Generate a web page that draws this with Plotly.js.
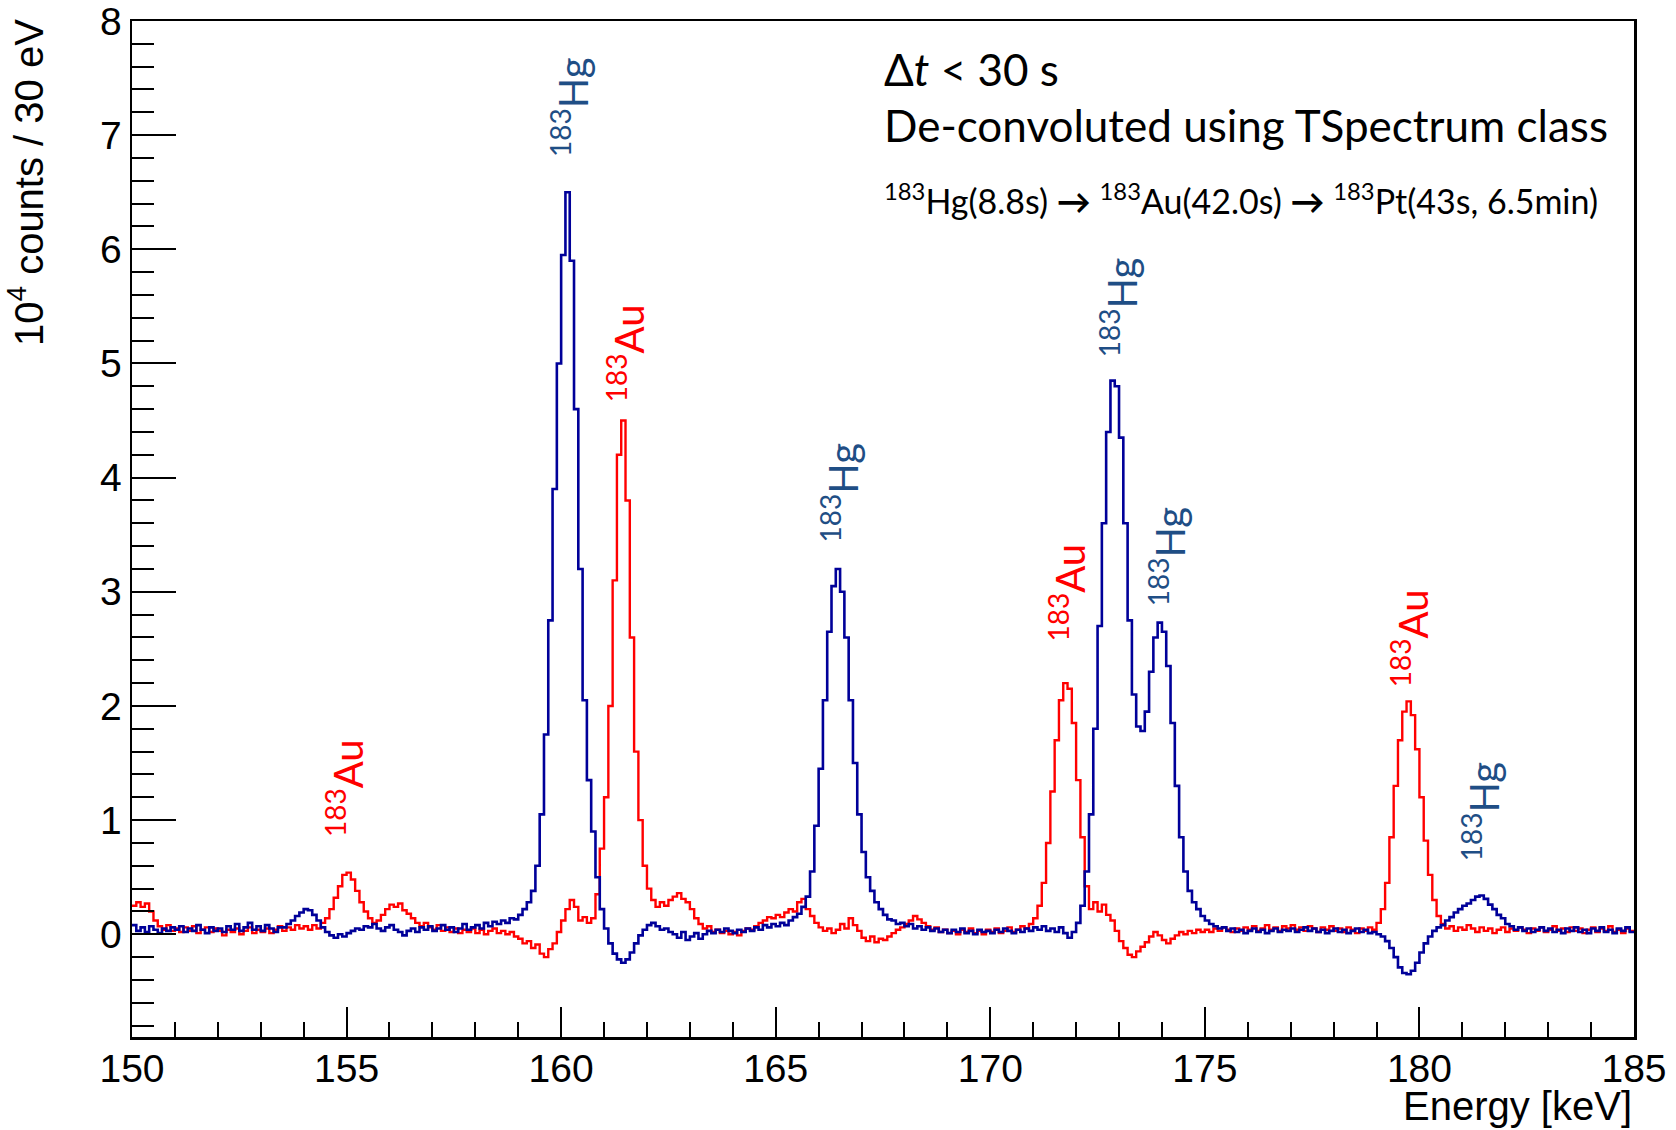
<!DOCTYPE html>
<html>
<head>
<meta charset="utf-8">
<script src="https://cdn.plot.ly/plotly-3.0.1.min.js"></script>
<style>html,body{margin:0;padding:0;background:#fff;}#chart{width:1676px;height:1130px;}</style>
</head>
<body>
<div id="chart"></div>
<script>
// Histogram bins (left edges), 0.1 keV wide, from 150.0 keV
const binStart = 150.0;
const binWidth = 0.1;

// 183Hg spectrum (blue), units of 10^4 counts
const hgCounts = [
 0.08,0.03,0.06,0.02,0.07,0.04,0.01,0.05,0.03,0.06,
 0.04,0.07,0.02,0.05,0.03,0.08,0.04,0.01,0.06,0.03,
 0.05,0.02,0.07,0.04,0.09,0.03,0.06,0.10,0.04,0.07,
 0.03,0.08,0.05,0.02,0.06,0.06,0.09,0.12,0.16,0.19,
 0.22,0.21,0.17,0.12,0.06,0.02,-0.01,-0.03,0.00,-0.02,
 0.01,0.03,0.05,0.04,0.07,0.06,0.09,0.05,0.03,0.06,
 0.08,0.04,0.02,-0.01,0.03,0.05,0.02,0.06,0.04,0.07,
 0.03,0.05,0.08,0.04,0.06,0.02,0.05,0.09,0.04,0.06,
 0.08,0.05,0.10,0.07,0.11,0.09,0.12,0.10,0.14,0.13,
 0.17,0.22,0.28,0.38,0.60,1.05,1.75,2.75,3.90,5.00,
 5.95,6.50,5.90,4.60,3.20,2.05,1.35,0.90,0.50,0.22,
 0.05,-0.08,-0.17,-0.22,-0.25,-0.22,-0.16,-0.08,-0.01,0.04,
 0.08,0.10,0.07,0.04,0.05,0.02,0.00,-0.03,0.02,-0.05,
 -0.02,0.01,-0.04,0.00,0.03,0.01,0.04,0.02,0.05,0.03,
 0.01,0.04,0.02,0.05,0.03,0.06,0.04,0.08,0.06,0.09,
 0.07,0.10,0.08,0.12,0.15,0.18,0.24,0.33,0.55,0.95,
 1.45,2.05,2.65,3.05,3.20,3.00,2.60,2.05,1.50,1.05,
 0.72,0.50,0.38,0.28,0.22,0.17,0.13,0.12,0.09,0.10,
 0.07,0.09,0.05,0.07,0.04,0.06,0.03,0.05,0.02,0.04,
 0.01,0.04,0.02,0.05,0.01,0.03,0.00,0.04,0.02,0.03,
 0.01,0.04,0.02,0.05,0.03,0.01,0.04,0.02,0.05,0.03,
 0.06,0.04,0.07,0.03,0.05,0.02,0.06,0.01,-0.03,0.02,
 0.10,0.25,0.55,1.05,1.80,2.70,3.60,4.40,4.85,4.80,
 4.35,3.60,2.75,2.10,1.82,1.78,1.95,2.30,2.60,2.73,
 2.65,2.35,1.85,1.30,0.85,0.55,0.38,0.28,0.22,0.16,
 0.12,0.09,0.07,0.05,0.06,0.03,0.05,0.02,0.04,0.01,
 0.03,0.05,0.02,0.04,0.01,0.03,0.05,0.02,0.04,0.03,
 0.05,0.02,0.04,0.06,0.03,0.05,0.02,0.04,0.01,0.03,
 0.05,0.02,0.04,0.01,0.03,0.05,0.02,0.04,0.01,0.02,
 0.00,-0.02,-0.06,-0.12,-0.20,-0.29,-0.34,-0.35,-0.32,-0.25,
 -0.16,-0.08,-0.02,0.03,0.06,0.08,0.12,0.15,0.19,0.22,
 0.25,0.27,0.30,0.33,0.34,0.31,0.26,0.22,0.17,0.14,
 0.09,0.07,0.04,0.06,0.03,0.05,0.02,0.04,0.06,0.03,
 0.05,0.02,0.04,0.01,0.05,0.03,0.06,0.02,0.04,0.01,
 0.05,0.03,0.06,0.02,0.04,0.01,0.05,0.03,0.06,0.02
];

// 183Au spectrum (red), units of 10^4 counts
const auCounts = [
 0.25,0.28,0.24,0.27,0.20,0.12,0.07,0.04,0.08,0.03,
 0.05,0.02,0.06,0.03,0.07,0.01,0.04,0.06,0.02,0.05,
 0.03,-0.01,0.04,0.02,0.05,0.00,0.03,0.06,0.01,0.04,
 0.02,0.05,0.01,0.04,0.07,0.03,0.06,0.04,0.08,0.05,
 0.07,0.04,0.08,0.05,0.10,0.14,0.22,0.32,0.42,0.52,
 0.54,0.48,0.38,0.28,0.20,0.14,0.10,0.12,0.17,0.22,
 0.26,0.24,0.27,0.21,0.18,0.14,0.10,0.07,0.10,0.06,
 0.04,0.08,0.03,0.06,0.02,0.05,0.01,0.04,0.02,0.05,
 0.01,0.04,0.00,0.03,0.05,0.01,0.03,0.00,0.02,-0.02,
 -0.04,-0.08,-0.06,-0.12,-0.09,-0.17,-0.20,-0.13,-0.08,0.02,
 0.12,0.22,0.30,0.24,0.12,0.15,0.10,0.14,0.35,0.75,
 1.20,2.00,3.10,4.20,4.50,3.80,2.60,1.60,1.00,0.60,
 0.40,0.30,0.24,0.28,0.25,0.30,0.33,0.36,0.31,0.28,
 0.22,0.14,0.09,0.05,0.07,0.02,0.04,0.01,0.03,0.00,
 0.02,-0.01,0.03,0.05,0.04,0.07,0.10,0.12,0.15,0.14,
 0.17,0.15,0.19,0.22,0.20,0.28,0.31,0.22,0.16,0.10,
 0.06,0.03,0.05,0.01,0.04,0.09,0.05,0.14,0.08,0.03,
 -0.03,-0.06,-0.02,-0.07,-0.04,-0.05,-0.02,0.01,0.04,0.06,
 0.09,0.12,0.16,0.13,0.10,0.07,0.04,0.06,0.02,0.04,
 0.01,0.03,0.00,0.04,0.02,0.05,0.01,0.03,0.00,0.04,
 0.02,0.05,0.01,0.03,0.06,0.02,0.04,0.07,0.05,0.09,
 0.14,0.25,0.45,0.80,1.25,1.70,2.05,2.20,2.15,1.85,
 1.35,0.85,0.42,0.22,0.28,0.20,0.26,0.17,0.12,0.03,
 -0.06,-0.12,-0.18,-0.20,-0.15,-0.11,-0.07,-0.02,0.02,-0.01,
 -0.05,-0.08,-0.04,-0.01,0.02,0.00,0.03,0.01,0.04,0.02,
 0.04,0.02,0.05,0.03,0.06,0.04,0.02,0.05,0.03,0.06,
 0.04,0.07,0.03,0.05,0.08,0.04,0.06,0.03,0.07,0.05,
 0.08,0.04,0.06,0.03,0.07,0.05,0.02,0.06,0.04,0.07,
 0.03,0.05,0.02,0.06,0.04,0.01,0.05,0.03,0.06,0.04,
 0.10,0.22,0.45,0.85,1.30,1.70,1.95,2.04,1.92,1.62,
 1.20,0.82,0.52,0.30,0.16,0.09,0.05,0.07,0.03,0.06,
 0.04,0.08,0.05,0.02,0.06,0.03,0.05,0.01,0.04,0.06,
 0.02,0.05,0.03,0.06,0.04,0.01,0.05,0.03,0.06,0.02,
 0.04,0.07,0.03,0.05,0.02,0.06,0.03,0.05,0.01,0.04,
 0.06,0.02,0.05,0.03,0.07,0.02,0.04,0.01,0.05,0.03
];

// Peak labels
const labelText = ["<sup>183</sup>Au","<sup>183</sup>Hg","<sup>183</sup>Au","<sup>183</sup>Hg","<sup>183</sup>Au","<sup>183</sup>Hg","<sup>183</sup>Hg","<sup>183</sup>Au","<sup>183</sup>Hg"];
const labelEnergy = [154.96,160.21,161.51,166.52,171.80,172.99,174.14,179.77,181.44];
const labelLevel  = [1.28,7.24,5.09,3.87,2.99,5.49,3.31,2.59,1.07];
const labelIsotope = ["Au","Hg","Au","Hg","Au","Hg","Hg","Au","Hg"];

const arrow = '<span style="font-weight:bold">→</span>';
const infoLines = [
  "Δ<i>t</i> &lt; 30 s",
  "De-convoluted using TSpectrum class",
  "<sup>183</sup>Hg(8.8s) " + arrow + " <sup>183</sup>Au(42.0s) " + arrow + " <sup>183</sup>Pt(43s, 6.5min)"
];

function edges(n){ const e=[]; for(let i=0;i<=n;i++) e.push(+(binStart+i*binWidth).toFixed(3)); return e; }
const xE = edges(hgCounts.length);
const hgY = hgCounts.concat([hgCounts[hgCounts.length-1]]);
const auY = auCounts.concat([auCounts[auCounts.length-1]]);

const traces = [
  {x:xE, y:auY, type:'scatter', mode:'lines', line:{shape:'hv', color:'#ff0000', width:2.4}, name:'183Au', hoverinfo:'x+y'},
  {x:xE, y:hgY, type:'scatter', mode:'lines', line:{shape:'hv', color:'#000099', width:2.6}, name:'183Hg', hoverinfo:'x+y'}
];

const calib = "Lato, 'Open Sans', sans-serif";
const annotations = [];
for(let i=0;i<labelText.length;i++){
  annotations.push({x:labelEnergy[i], y:labelLevel[i], xref:'x', yref:'y', text:labelText[i], showarrow:false,
    textangle:-90, xanchor:'center', yanchor:'middle',
    font:{family:calib, size:40, color: labelIsotope[i]==='Hg' ? '#1f4e85' : '#ff0000'}});
}
const infoY = [0.9528, 0.8976, 0.8248];
const infoSize = [44, 44, 34];
for(let i=0;i<infoLines.length;i++){
  annotations.push({x:0.4993, y:infoY[i], xref:'paper', yref:'paper', text:infoLines[i], showarrow:false,
    xanchor:'left', yanchor:'middle', font:{family:calib, size:infoSize[i], color:'#000'}});
}
// axis titles
annotations.push({x:1, y:-0.068, xref:'paper', yref:'paper', text:'Energy [keV]', showarrow:false,
  xanchor:'right', yanchor:'middle', font:{family:'Liberation Sans, Arial, sans-serif', size:40, color:'#000'}});
annotations.push({x:-0.0705, y:0.8406, xref:'paper', yref:'paper', text:'10<sup>4</sup> counts / 30 eV', showarrow:false,
  textangle:-90, xanchor:'center', yanchor:'middle', font:{family:'Liberation Sans, Arial, sans-serif', size:40, color:'#000'}});

const axisFont = {family:'Liberation Sans, Arial, sans-serif', size:39, color:'#000'};
const layout = {
  width:1676, height:1130,
  margin:{l:132, r:42, t:21, b:93},
  paper_bgcolor:'#fff', plot_bgcolor:'#fff',
  showlegend:false,
  xaxis:{range:[150,185], dtick:5, tick0:150, ticks:'inside', ticklen:30, tickwidth:2, tickcolor:'#000',
    minor:{dtick:1, ticks:'inside', ticklen:15, tickwidth:2, tickcolor:'#000'},
    showline:true, linecolor:'#000', linewidth:2.5, mirror:true, showgrid:false, zeroline:false,
    tickfont:axisFont, ticklabeloverflow:'allow', ticklabelstandoff:-4},
  yaxis:{range:[-0.9,8], dtick:1, tick0:0, ticks:'inside', ticklen:44, tickwidth:2, tickcolor:'#000',
    minor:{dtick:0.2, ticks:'inside', ticklen:22, tickwidth:2, tickcolor:'#000'},
    showline:true, linecolor:'#000', linewidth:2.5, mirror:true, showgrid:false, zeroline:false,
    tickfont:axisFont, ticklabeloverflow:'allow'},
  annotations:annotations
};
Plotly.newPlot('chart', traces, layout, {displayModeBar:false, staticPlot:true});
</script>
</body>
</html>
